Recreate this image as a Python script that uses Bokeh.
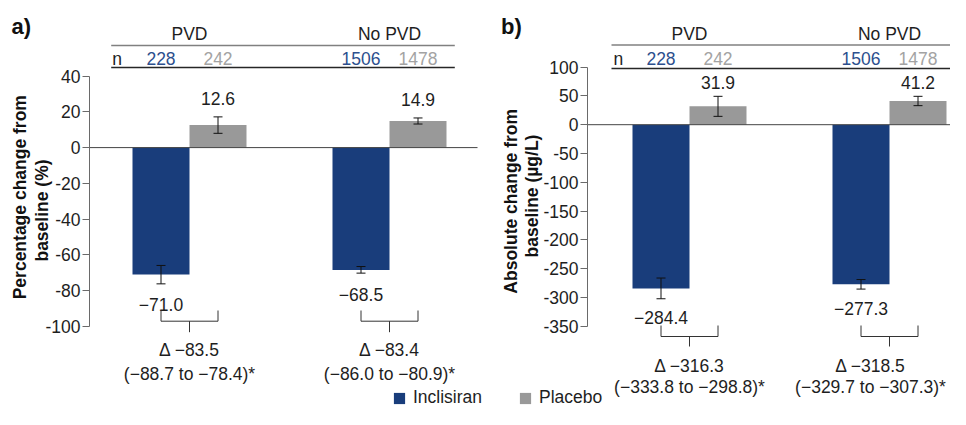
import numpy as np
from bokeh.plotting import figure
from bokeh.models import (Range1d, FixedTicker, Legend, LegendItem, ColumnDataSource,
                          Whisker, TeeHead, LinearAxis, CustomJSTickFormatter)
from bokeh.embed import file_html
from bokeh.resources import INLINE
from bokeh.core.properties import value

# ---------------- data ----------------
groups = ["PVD", "No PVD"]
treatments = ["Inclisiran", "Placebo"]
n_inclisiran = [228, 1506]
n_placebo = [242, 1478]

# a) percentage change from baseline (%)
pct_inclisiran = [-71.0, -68.5]
pct_inclisiran_lo = [-76.3, -70.3]
pct_inclisiran_hi = [-66.0, -66.6]
pct_placebo = [12.6, 14.9]
pct_placebo_lo = [8.0, 13.2]
pct_placebo_hi = [17.2, 16.6]
pct_delta = [-83.5, -83.4]
pct_delta_lo = [-88.7, -86.0]
pct_delta_hi = [-78.4, -80.9]
pct_ticks = [-100, -80, -60, -40, -20, 0, 20, 40]

# b) absolute change from baseline (µg/L)
abs_inclisiran = [-284.4, -277.3]
abs_inclisiran_lo = [-302.4, -285.6]
abs_inclisiran_hi = [-266.4, -269.0]
abs_placebo = [31.9, 41.2]
abs_placebo_lo = [14.5, 33.1]
abs_placebo_hi = [49.3, 49.3]
abs_delta = [-316.3, -318.5]
abs_delta_lo = [-333.8, -329.7]
abs_delta_hi = [-298.8, -307.3]
abs_ticks = [-350, -300, -250, -200, -150, -100, -50, 0, 50, 100]

# ---------------- style / layout ----------------
FONT = "Liberation Sans"
FS = "17.5px"
C_INCL = "#193d7b"
C_PLAC = "#999999"
C_N_INCL = "#2c4f8e"
C_N_PLAC = "#a3a3a3"
C_TEXT = "#1e1e1e"
W, H = 950, 409
PX_PER_X = 200.0
G0_PX = 189.0          # pixel centre of the first group in panel a


def X(px):
    return (px - G0_PX) / PX_PER_X


def fmt(v):
    s = f"{abs(v):.1f}"
    return ("\u2212" + s) if v < 0 else s


geo_a = dict(rname="default", shift=0.0, axis_px=89, zero_px=147.1, ppy=1.7857,
             zero_end_px=477, header_x=(110.7, 454.3), header_y=(45, 67), title_y=33,
             n_y=58, n_x=111.7, bracket=(310, 320.7, 331.7), delta_y=(349, 373.3),
             pos_off=-18.5, neg_off=21, tag=(11, 25.5), yt1=(19.5, 196.7),
             yt2=(41.7, 210))
geo_b = dict(rname="b", shift=2.5, axis_px=587, zero_px=124.2, ppy=0.5756,
             zero_end_px=W, header_x=(611, W), header_y=(44.5, 68), title_y=33,
             n_y=58, n_x=613, bracket=(325, 336, 346), delta_y=(365, 386.7),
             pos_off=-14, neg_off=19, tag=(500.5, 25.5), yt1=(510.7, 200.8),
             yt2=(531.7, 195.5))


def yconv(g):
    return lambda py: (g["zero_px"] - py) / g["ppy"]


Ya, Yb = yconv(geo_a), yconv(geo_b)

p = figure(width=W, height=H, x_range=Range1d(X(0), X(W)),
           y_range=Range1d(Ya(H), Ya(0)), x_axis_type=None,
           output_backend="svg", toolbar_location=None, min_border=0)
p.extra_y_ranges = {"b": Range1d(Yb(H), Yb(0))}
p.outline_line_color = None
p.grid.grid_line_color = None
p.yaxis[0].fixed_location = X(geo_a["axis_px"])
axis_b = LinearAxis(y_range_name="b", fixed_location=X(geo_b["axis_px"]))
p.add_layout(axis_b, "left")

for ax, ticks in ((p.yaxis[0], pct_ticks), (axis_b, abs_ticks)):
    ax.ticker = FixedTicker(ticks=ticks)
    ax.bounds = (min(ticks), max(ticks))
    ax.formatter = CustomJSTickFormatter(code="return tick.toFixed(0)")
    ax.minor_tick_line_color = None
    ax.major_tick_in = 0
    ax.major_tick_out = 7
    ax.major_label_standoff = 2
    ax.axis_line_color = "#6a6a6a"
    ax.major_tick_line_color = "#6a6a6a"
    ax.major_label_text_font = FONT
    ax.major_label_text_font_size = FS
    ax.major_label_text_color = C_TEXT

HALF = 0.1425  # half bar width (x units)


def txt(x, y, text, rname, color=C_TEXT, align="center", size=FS, style="normal",
        angle=0.0):
    p.text(x=x, y=y, text=text, y_range_name=rname, angle=angle,
           text_align=align, text_baseline="middle", text_font=value(FONT),
           text_font_size=size, text_font_style=style, text_color=color)


def draw_panel(tag, ytitle1, ytitle2, incl, incl_lo, incl_hi, plac, plac_lo, plac_hi,
               delta, dlo, dhi, g):
    rn = g["rname"]
    Y = yconv(g)
    idx = np.arange(len(groups), dtype=float) + g["shift"]
    bars = []
    for vals, lo, hi, sign, color in ((incl, incl_lo, incl_hi, -1, C_INCL),
                                      (plac, plac_lo, plac_hi, 1, C_PLAC)):
        ly = [h if v >= 0 else l for v, l, h in zip(vals, lo, hi)]
        loff = [g["pos_off"] if v >= 0 else g["neg_off"] for v in vals]
        src = ColumnDataSource(dict(x=idx + sign * HALF, top=vals, lo=lo, hi=hi,
                                    ly=ly, loff=loff, lab=[fmt(v) for v in vals]))
        bars.append(p.vbar(x="x", top="top", bottom=0, width=2 * HALF, source=src,
                           fill_color=color, line_color=None, y_range_name=rn))
        p.add_layout(Whisker(base="x", upper="hi", lower="lo", source=src,
                             y_range_name=rn, level="annotation",
                             line_color="#111111", line_width=1,
                             upper_head=TeeHead(size=9, line_color="#111111", line_width=1),
                             lower_head=TeeHead(size=9, line_color="#111111", line_width=1)))
        p.text(x="x", y="ly", text="lab", y_offset="loff", source=src, y_range_name=rn,
               text_align="center", text_baseline="middle", text_font=value(FONT),
               text_font_size=FS, text_color=C_TEXT)

    # zero line
    p.segment(x0=[X(g["axis_px"])], y0=[0], x1=[X(g["zero_end_px"])], y1=[0],
              line_color="#444444", line_width=1, y_range_name=rn)

    # header: group titles, sample sizes, rules
    hx0, hx1 = X(g["header_x"][0]), X(g["header_x"][1])
    for hy, col in zip(g["header_y"], ("#808080", "#262626")):
        p.segment(x0=[hx0], y0=[Y(hy)], x1=[hx1], y1=[Y(hy)], line_color=col,
                  line_width=1.3, y_range_name=rn)
    txt(list(idx), [Y(g["title_y"])] * len(groups), groups, rn)
    txt([X(g["n_x"])], [Y(g["n_y"])], ["n"], rn, align="left")
    txt(list(idx - HALF), [Y(g["n_y"])] * len(groups), [str(v) for v in n_inclisiran],
        rn, color=C_N_INCL)
    txt(list(idx + HALF), [Y(g["n_y"])] * len(groups), [str(v) for v in n_placebo],
        rn, color=C_N_PLAC)

    # brackets with treatment difference
    bt, bb, bs = (Y(v) for v in g["bracket"])
    p.multi_line(xs=[[c - HALF, c - HALF, c + HALF, c + HALF] for c in idx],
                 ys=[[bt, bb, bb, bt] for _ in idx], line_color="#333333",
                 line_width=1, y_range_name=rn)
    p.segment(x0=list(idx), y0=[bb] * len(idx), x1=list(idx), y1=[bs] * len(idx),
              line_color="#333333", line_width=1, y_range_name=rn)
    # keep the wide CI text inside the canvas
    tx = [min(c, X(W - 80)) for c in idx]
    txt(tx, [Y(g["delta_y"][0])] * len(idx), ["\u0394 " + fmt(d) for d in delta], rn)
    txt(tx, [Y(g["delta_y"][1])] * len(idx),
        [f"({fmt(a)} to {fmt(b)})*" for a, b in zip(dlo, dhi)], rn)

    # panel tag and axis title
    txt([X(g["tag"][0])], [Y(g["tag"][1])], [tag], rn, align="left", size="22px",
        style="bold", color="#111111")
    for t, (tx_, ty_) in ((ytitle1, g["yt1"]), (ytitle2, g["yt2"])):
        txt([X(tx_)], [Y(ty_)], [t], rn, style="bold", color="#111111",
            angle=np.pi / 2)
    return bars


bars_a = draw_panel("a)", "Percentage change from", "baseline (%)",
                    pct_inclisiran, pct_inclisiran_lo, pct_inclisiran_hi,
                    pct_placebo, pct_placebo_lo, pct_placebo_hi,
                    pct_delta, pct_delta_lo, pct_delta_hi, geo_a)
draw_panel("b)", "Absolute change from", "baseline (\u00b5g/L)",
           abs_inclisiran, abs_inclisiran_lo, abs_inclisiran_hi,
           abs_placebo, abs_placebo_lo, abs_placebo_hi,
           abs_delta, abs_delta_lo, abs_delta_hi, geo_b)

legend = Legend(items=[LegendItem(label=treatments[0], renderers=[bars_a[0]]),
                       LegendItem(label=treatments[1], renderers=[bars_a[1]])],
                orientation="horizontal", location=(392, 1),
                glyph_width=14, glyph_height=14, label_height=14, label_standoff=7,
                spacing=36, padding=0, margin=0, border_line_color=None,
                background_fill_alpha=0, label_text_font=FONT,
                label_text_font_size=FS, label_text_color=C_TEXT)
p.add_layout(legend)

open("out.html", "w").write(file_html(p, INLINE))
